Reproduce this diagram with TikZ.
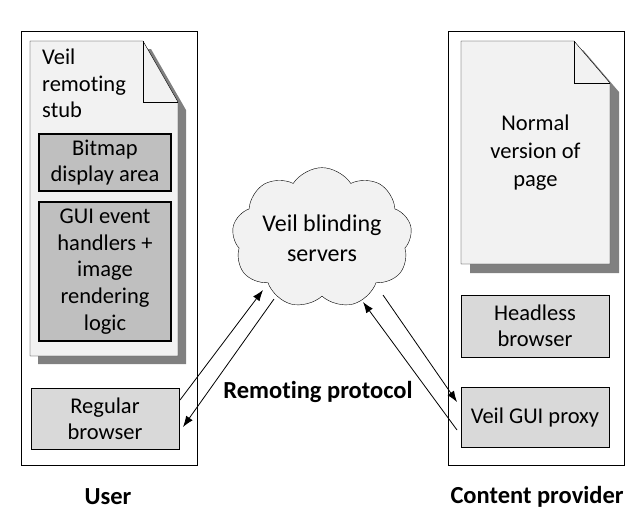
\documentclass[tikz,border=0pt]{standalone}
\usepackage{fontspec}
\setmainfont{Carlito}[Ligatures=NoCommon]
\usetikzlibrary{shapes.symbols,arrows.meta}
\definecolor{pagefill}{HTML}{F2F2F2}
\definecolor{shadowgray}{HTML}{808080}
\definecolor{boxdark}{HTML}{BFBFBF}
\definecolor{boxlight}{HTML}{D9D9D9}
\tikzset{
  innerbox/.style={draw,line width=2pt,fill=boxdark,align=center,inner sep=0pt,font=\fontsize{22.5}{26}\selectfont},
  browserbox/.style={draw,fill=boxlight,align=center,inner sep=0pt,font=\fontsize{22.5}{26}\selectfont},
  flow/.style={-{Latex[length=11pt,width=8pt]},line width=0.8pt},
  caption/.style={font=\fontsize{24.5}{28}\selectfont\bfseries}
}
\begin{document}
\begin{tikzpicture}[x=1pt,y=-1pt]
\useasboundingbox (0,0) rectangle (640,528);
% outer frames
\node[draw,minimum width=176pt,minimum height=434pt,inner sep=0pt] (user) at (109,248) {};
\node[draw,minimum width=176pt,minimum height=434pt,inner sep=0pt] (provider) at (536,248) {};
% stub page with folded corner
\fill[shadowgray] (38,49) -- (151,49) -- (186,110) -- (186,364) -- (38,364) -- cycle;
\filldraw[fill=pagefill] (30,41) -- (143,41) -- (178,102) -- (178,356) -- (30,356) -- cycle;
\draw (143,41) -- (143,102) -- (178,102);
\node[anchor=north west,align=left,inner sep=0pt,font=\fontsize{22.5}{26.5}\selectfont] (stub) at (42,49) {Veil\\remoting\\stub};
\node[innerbox,minimum width=132pt,minimum height=57pt] (bitmap) at (105,162.5) {Bitmap\\display area};
\node[innerbox,minimum width=132pt,minimum height=139pt,font=\fontsize{22.5}{26.7}\selectfont] (gui) at (105,271.5) {GUI event\\handlers +\\image\\rendering\\logic};
\node[browserbox,minimum width=148pt,minimum height=61pt] (regular) at (105,418.5) {Regular\\browser};
% normal page with folded corner
\fill[shadowgray] (470,50) -- (583,50) -- (619,92) -- (619,273) -- (470,273) -- cycle;
\filldraw[fill=pagefill] (461,41) -- (574,41) -- (610,83) -- (610,264) -- (461,264) -- cycle;
\draw (574,41) -- (574,83) -- (610,83);
\node[align=center,inner sep=0pt,font=\fontsize{22.5}{28}\selectfont] (normal) at (535.5,153) {Normal\\version of\\page};
\node[browserbox,minimum width=148pt,minimum height=62pt] (headless) at (535,326) {Headless\\browser};
\node[browserbox,minimum width=148pt,minimum height=60pt] (proxy) at (535,417) {Veil GUI proxy};
% blinding servers
\node[cloud,draw,fill=pagefill,cloud puffs=9,cloud puff arc=115,aspect=1.45,minimum width=180pt,minimum height=126pt,inner sep=0pt,align=center,font=\fontsize{24}{30}\selectfont] (cloud) at (322,238) {Veil blinding\\servers};
% remoting arrows
\coordinate (a1) at (180,400);
\coordinate (a2) at (263,290);
\coordinate (b1) at (274,299);
\coordinate (b2) at (183,427);
\coordinate (c1) at (457,430);
\coordinate (c2) at (363,302);
\coordinate (d1) at (383,295);
\coordinate (d2) at (457,402);
\draw[flow] (a1) -- (a2);
\draw[flow] (b1) -- (b2);
\draw[flow] (c1) -- (c2);
\draw[flow] (d1) -- (d2);
\node[caption] (protocol) at (318,392) {Remoting protocol};
\node[caption] (userlabel) at (108,497) {User};
\node[caption] (providerlabel) at (537,497) {Content provider};
\end{tikzpicture}
\end{document}
